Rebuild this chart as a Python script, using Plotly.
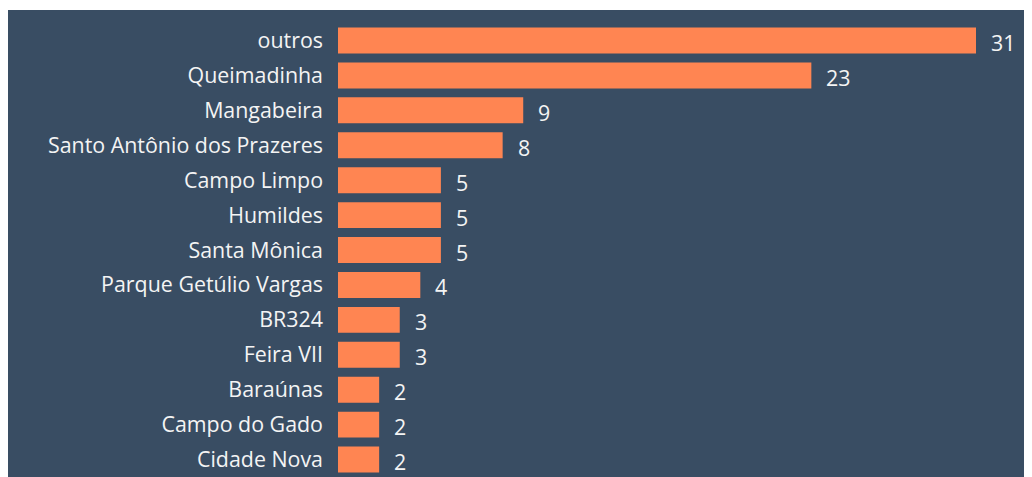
import plotly.graph_objects as go

bairros = ["outros", "Queimadinha", "Mangabeira", "Santo Antônio dos Prazeres",
           "Campo Limpo", "Humildes", "Santa Mônica", "Parque Getúlio Vargas",
           "BR324", "Feira VII", "Baraúnas", "Campo do Gado", "Cidade Nova"]
valores = [31, 23, 9, 8, 5, 5, 5, 4, 3, 3, 2, 2, 2]

BG = "#394d63"
BAR = "#ff8552"
TXT = "#f4f4f4"
FONT = "Open Sans"
FS = 21.4

W, H = 1024, 469
ML, MR, MT, MB = 330, 0, 14, 0
PW = W - ML - MR
PH = H - MT - MB
PX_PER_UNIT = 638 / 31

fig = go.Figure(go.Bar(
    x=valores, y=bairros, orientation="h",
    marker=dict(color=BAR, line=dict(width=0)),
    hoverinfo="x+y",
))

for b, v in zip(bairros, valores):
    fig.add_annotation(x=v, y=b, text=str(v), showarrow=False,
                       xanchor="left", yanchor="middle", xshift=13, yshift=-2,
                       font=dict(family=FONT, size=FS, color=TXT))

# thin white strip at the very top
fig.add_shape(type="rect", xref="paper", yref="paper",
              x0=-1, x1=2, y0=(H - MB - 2) / PH, y1=(H - MB + 5) / PH,
              fillcolor="white", line=dict(width=0), layer="above")

fig.update_layout(
    width=W, height=H,
    margin=dict(l=ML, r=MR, t=MT, b=MB, pad=0),
    paper_bgcolor=BG, plot_bgcolor=BG,
    bargap=0.257,
    showlegend=False,
    font=dict(family=FONT, size=FS, color=TXT),
    xaxis=dict(visible=False, range=[0, PW / PX_PER_UNIT], fixedrange=True),
    yaxis=dict(autorange="reversed", showgrid=False, showline=False, zeroline=False,
               ticks="", ticklabelstandoff=14,
               tickfont=dict(family=FONT, size=FS, color=TXT), fixedrange=True),
)

fig.write_html("out.html", config={"displayModeBar": False})
